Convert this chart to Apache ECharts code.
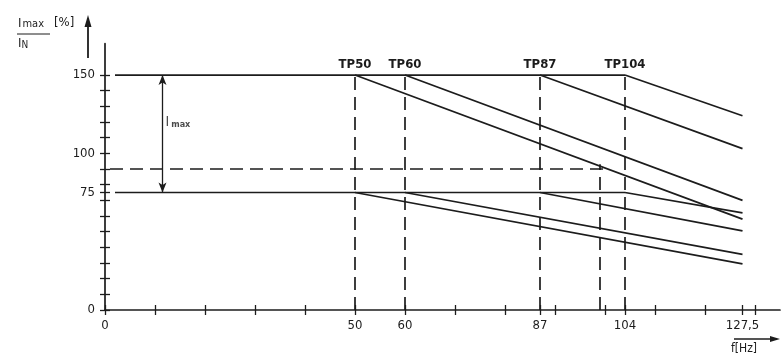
<!DOCTYPE html>
<html><head><meta charset="utf-8">
<script src="https://cdn.jsdelivr.net/npm/echarts@6/dist/echarts.min.js"></script>
<style>html,body{margin:0;padding:0;background:#fff}#c{width:781px;height:359px}</style>
</head><body><div id="c"></div>
<script>
// ---- data ----
const tpFreqs = [50, 60, 87, 104];           // Hz, vertical dashed lines / break points
const tpLabels = ['TP50', 'TP60', 'TP87', 'TP104'];
const fEnd = 127.5;                          // Hz, end of curves
const upperEnd = [58, 70, 103, 124];         // Imax/IN % at 127.5 Hz, curves from 150 %
const lowerEnd = [29.5, 35.5, 50.5, 62];     // Imax/IN % at 127.5 Hz, curves from 75 %
const imaxLevel = 150;
const inLevel = 75;
const levelStart = 2;                        // Hz where the horizontal levels start
const dashLevel = 90;                        // % dashed horizontal
const dashLevelRange = [1, 101];             // Hz
const dashFreq = 99;                         // Hz dashed vertical
const dashFreqTop = 93;                      // % top of that dashed vertical
const imaxArrowFreq = 11.5;                  // Hz of the Imax double arrow
const imaxTextLevel = 120;                   // % where "Imax" text sits
const xLabelValues = [0, 50, 60, 87, 104, 127.5];
const xTickValues = [0, 10, 20, 30, 40, 50, 60, 70, 80, 87, 90, 100, 104, 110, 120, 127.5, 130];
const yLabelValues = [0, 75, 100, 150];
const yTickValues = [0, 10, 20, 30, 40, 50, 60, 70, 75, 80, 90, 100, 110, 120, 130, 140, 150];

const INK = '#1c1c1c';
const FONT = '"DejaVu Sans Condensed", "Liberation Sans Narrow", sans-serif';
const solid = {color: INK, width: 1.7, type: 'solid'};
const dashed = {color: INK, width: 1.7, type: [13, 7]};

function line(name, pts, style, extra) {
  return Object.assign({
    name: name, type: 'line', data: pts, symbol: 'circle', symbolSize: 0,
    showSymbol: true, lineStyle: style, itemStyle: {color: INK},
    silent: true, z: 3, animation: false
  }, extra || {});
}

const series = [];
series.push(line('Imax', [[levelStart, imaxLevel], [tpFreqs[3], imaxLevel]], solid));
series.push(line('IN', [[levelStart, inLevel], [tpFreqs[3], inLevel]], solid));
tpFreqs.forEach((f, i) => {
  series.push(line(tpLabels[i] + ' Imax', [
    {value: [f, imaxLevel], label: {show: true, formatter: tpLabels[i], position: 'top', distance: 4,
      color: INK, fontFamily: FONT, fontWeight: 'bold', fontSize: 13}},
    [fEnd, upperEnd[i]]
  ], solid));
  series.push(line(tpLabels[i] + ' IN', [[f, inLevel], [fEnd, lowerEnd[i]]], solid));
  series.push(line(tpLabels[i] + ' f', [[f, 0], [f, imaxLevel]], dashed));
});
series.push(line('90%', [[dashLevelRange[0], dashLevel], [dashLevelRange[1], dashLevel]], dashed));
series.push(line('f99', [[dashFreq, 0], [dashFreq, dashFreqTop]], dashed));
series.push({
  type: 'scatter', silent: true, animation: false, symbolSize: 0,
  itemStyle: {color: INK},
  data: [[imaxArrowFreq, imaxTextLevel]],
  label: {show: true, position: 'right', distance: 3, color: INK,
    formatter: '{a|I}{b|max}',
    rich: {a: {fontFamily: FONT, fontSize: 14, color: INK}, b: {fontFamily: FONT, fontSize: 9, fontWeight: 'bold', color: INK, padding: [6, 0, 0, 2]}}},
  markLine: {
    silent: true, animation: false, symbol: ['arrow', 'arrow'], symbolSize: [6, 10],
    lineStyle: {color: INK, width: 1.3, type: 'solid'}, label: {show: false},
    data: [[{coord: [imaxArrowFreq, imaxLevel]}, {coord: [imaxArrowFreq, inLevel]}]]
  }
});

const xFmt = v => String(v).replace('.', ',');
const chart = echarts.init(document.getElementById('c'), null, {renderer: 'canvas'});
chart.setOption({
  backgroundColor: '#ffffff',
  animation: false,
  grid: {left: 105, right: 1, top: 43.7, bottom: 49, containLabel: false},
  xAxis: [{
    type: 'value', min: 0, max: 135, position: 'bottom',
    axisLine: {show: true, lineStyle: {color: INK, width: 1.7}},
    axisTick: {show: true, length: 5, customValues: xTickValues, lineStyle: {color: INK, width: 1.3}},
    axisLabel: {show: true, customValues: xLabelValues, formatter: xFmt, margin: 9,
      color: INK, fontFamily: FONT, fontSize: 13},
    splitLine: {show: false}
  }, {
    type: 'value', min: 0, max: 135, position: 'bottom', offset: 0,
    axisLine: {show: false},
    axisTick: {show: true, inside: true, length: 5, customValues: xTickValues, lineStyle: {color: INK, width: 1.3}},
    axisLabel: {show: false}, splitLine: {show: false}
  }],
  yAxis: [{
    type: 'value', min: 0, max: 170, position: 'left',
    axisLine: {show: true, lineStyle: {color: INK, width: 1.7}},
    axisTick: {show: true, length: 5, customValues: yTickValues, lineStyle: {color: INK, width: 1.3}},
    axisLabel: {show: true, customValues: yLabelValues, margin: 10,
      color: INK, fontFamily: FONT, fontSize: 13},
    splitLine: {show: false}
  }, {
    type: 'value', min: 0, max: 170, position: 'left', offset: 0,
    axisLine: {show: false},
    axisTick: {show: true, inside: true, length: 5, customValues: yTickValues, lineStyle: {color: INK, width: 1.3}},
    axisLabel: {show: false}, splitLine: {show: false}
  }],
  graphic: [
    {type: 'text', left: 18, top: 17, silent: true,
      style: {text: '{a|I}{b|max}', rich: {a: {fontFamily: FONT, fontSize: 13, fill: INK}, b: {fontFamily: FONT, fontSize: 11, fill: INK, padding: [2, 0, 0, 1]}}}},
    {type: 'line', silent: true, shape: {x1: 17, y1: 34, x2: 50, y2: 34}, style: {stroke: INK, lineWidth: 1}},
    {type: 'text', left: 54, top: 16, silent: true, style: {text: '[%]', font: '13px ' + FONT, fill: INK}},
    {type: 'text', left: 18, top: 37, silent: true,
      style: {text: '{a|I}{b|N}', rich: {a: {fontFamily: FONT, fontSize: 13, fill: INK}, b: {fontFamily: FONT, fontSize: 10, fill: INK, padding: [3, 0, 0, 0]}}}},
    {type: 'line', silent: true, shape: {x1: 88, y1: 58, x2: 88, y2: 22}, style: {stroke: INK, lineWidth: 1.8}},
    {type: 'polygon', silent: true, shape: {points: [[84.5, 27], [88, 15], [91.5, 27]]}, style: {fill: INK}},
    {type: 'line', silent: true, shape: {x1: 734, y1: 339, x2: 774, y2: 339}, style: {stroke: INK, lineWidth: 1.4}},
    {type: 'polygon', silent: true, shape: {points: [[770, 336], [780, 339], [770, 342]]}, style: {fill: INK}},
    {type: 'text', left: 731, top: 343, silent: true, style: {text: 'f[Hz]', font: '12px ' + FONT, fill: INK}}
  ],
  series: series
});
</script></body></html>
